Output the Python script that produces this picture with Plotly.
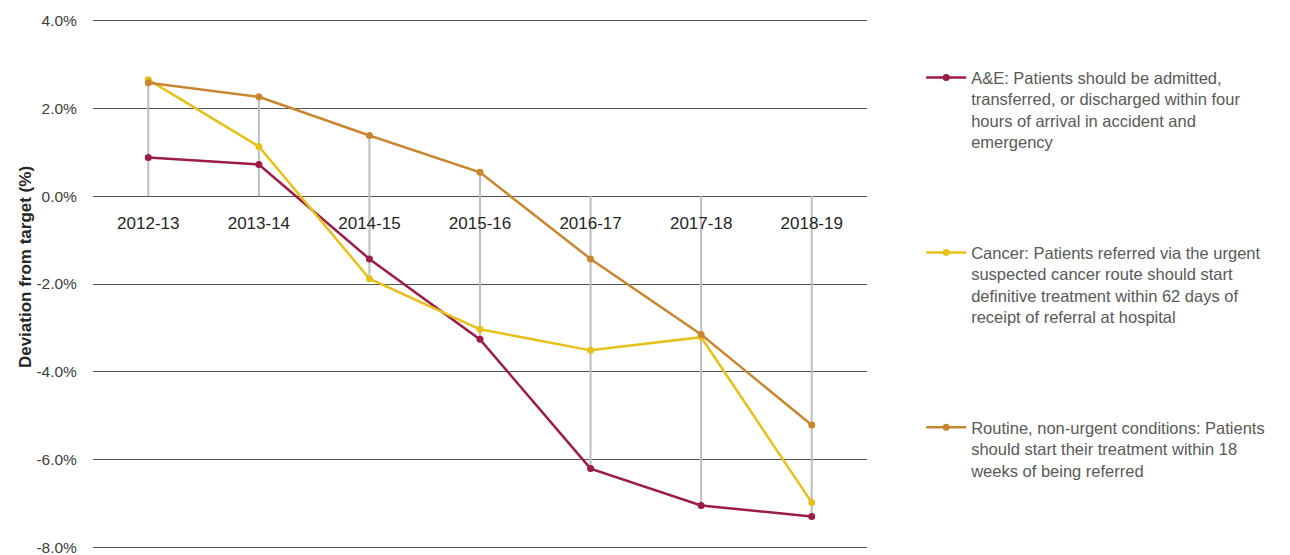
import plotly.graph_objects as go

years = ["2012-13", "2013-14", "2014-15", "2015-16", "2016-17", "2017-18", "2018-19"]
ae = [0.88, 0.72, -1.43, -3.26, -6.20, -7.04, -7.29]
cancer = [2.65, 1.13, -1.88, -3.03, -3.51, -3.21, -6.97]
routine = [2.58, 2.26, 1.38, 0.54, -1.43, -3.15, -5.21]

y_ticks = [4, 2, 0, -2, -4, -6, -8]
y_tick_labels = ["4.0%", "2.0%", "0.0%", "-2.0%", "-4.0%", "-6.0%", "-8.0%"]

names = [
    "A&E: Patients should be admitted,<br>transferred, or discharged within four<br>hours of arrival in accident and<br>emergency",
    "Cancer: Patients referred via the urgent<br>suspected cancer route should start<br>definitive treatment within 62 days of<br>receipt of referral at hospital",
    "Routine, non-urgent conditions: Patients<br>should start their treatment within 18<br>weeks of being referred",
]
colors = ["#9b1c46", "#e5c11a", "#c98630"]
series = [ae, cancer, routine]

fig = go.Figure()

# high-low drop lines
dx, dy = [], []
for i, yr in enumerate(years):
    vals = [s[i] for s in series]
    dx += [yr, yr, None]
    dy += [max(0, max(vals)), min(0, min(vals)), None]
fig.add_trace(go.Scatter(x=dx, y=dy, mode="lines", line=dict(color="#bdbdbd", width=2),
                         showlegend=False, hoverinfo="skip"))

legends = ["legend", "legend2", "legend3"]
for s, n, c, lg in zip(series, names, colors, legends):
    fig.add_trace(go.Scatter(x=years, y=s, name=n, mode="lines+markers",
                             line=dict(color=c, width=2.5),
                             marker=dict(color=c, size=7),
                             legend=lg))

legfont = dict(family="Liberation Sans, Arial, sans-serif", size=16.5, color="#595959")
leg_common = dict(x=1.07, xanchor="left", yanchor="top", valign="top",
                  font=legfont, bgcolor="rgba(0,0,0,0)", itemwidth=40)

fig.update_layout(
    width=1290, height=555,
    margin=dict(l=92.5, r=422.5, t=19, b=6, autoexpand=False),
    plot_bgcolor="white", paper_bgcolor="white",
    font=dict(family="Liberation Sans, Arial, sans-serif", size=14, color="#404040"),
    legend=dict(y=0.922, **leg_common),
    legend2=dict(y=0.592, **leg_common),
    legend3=dict(y=0.262, **leg_common),
    xaxis=dict(type="category", range=[-0.5, 6.5], showgrid=False, zeroline=False,
               showline=False, anchor="free", position=8.03/12.06, automargin=False,
               ticks="outside", ticklen=11, tickcolor="rgba(0,0,0,0)",
               tickfont=dict(size=17, color="#262626")),
    yaxis=dict(range=[-8.03, 4.03], tickvals=y_ticks, ticktext=y_tick_labels,
               showgrid=True, gridcolor="#555555", gridwidth=1.2, zeroline=False,
               showline=False, tickfont=dict(size=15.5, color="#404040"),
               ticks="outside", ticklen=12, tickcolor="rgba(0,0,0,0)",
               ticklabeloverflow="allow", automargin=False),
    annotations=[dict(text="<b>Deviation from target (%)</b>", textangle=-90,
                      xref="paper", yref="paper",
                      x=(25 - 92.5) / 775, y=(549 - 267.5) / 530,
                      xanchor="center", yanchor="middle", showarrow=False,
                      font=dict(size=17, color="#262626"))],
)

fig.write_html("out.html")
